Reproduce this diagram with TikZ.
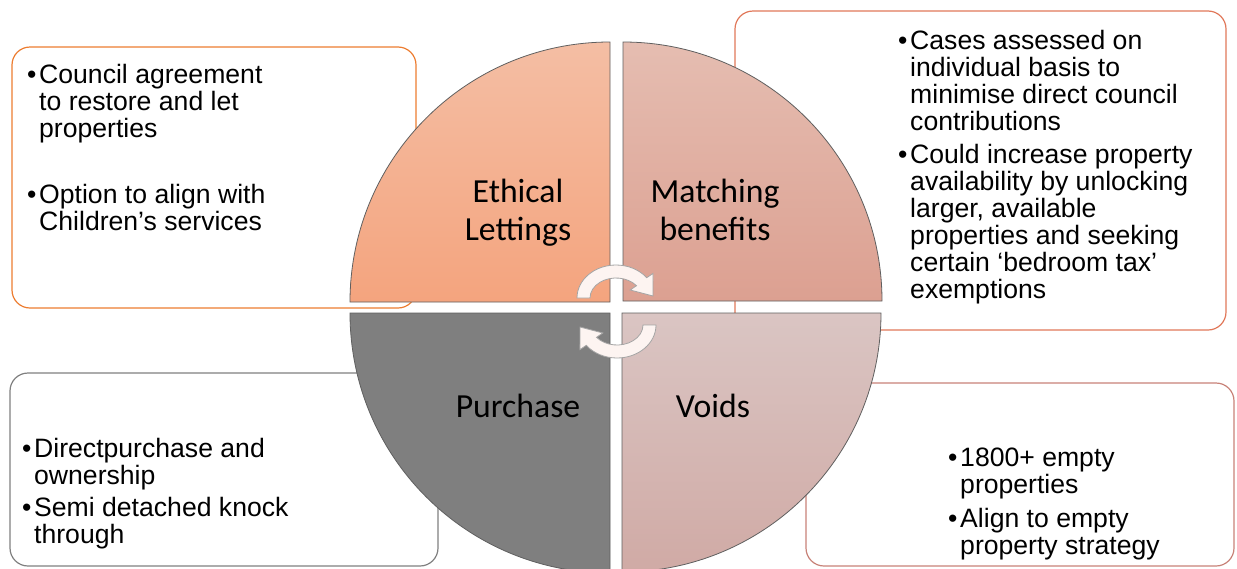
\documentclass[tikz,border=0pt]{standalone}
\usepackage{fontspec}
\setmainfont{Liberation Sans}
\newfontfamily\calib{Carlito}
\definecolor{bOne}{RGB}{237,125,49}
\definecolor{bTwo}{RGB}{225,120,90}
\definecolor{bThree}{RGB}{128,128,128}
\definecolor{bFour}{RGB}{200,130,120}
\definecolor{tlTop}{RGB}{244,190,164}
\definecolor{tlBot}{RGB}{244,164,126}
\definecolor{trTop}{RGB}{229,189,177}
\definecolor{trBot}{RGB}{220,160,145}
\definecolor{blFill}{RGB}{127,127,127}
\definecolor{brTop}{RGB}{218,197,195}
\definecolor{brBot}{RGB}{208,170,165}
\definecolor{qEdge}{RGB}{95,95,95}
\definecolor{arrFill}{RGB}{253,244,241}
\definecolor{arrLine}{RGB}{165,165,165}
\newcommand\bfont{\fontsize{26.6}{27}\selectfont}
\newcommand\qfont{\calib\fontsize{33.7}{38}\selectfont}
\tikzset{
  infobox/.style={rounded corners=18pt, line width=1.2pt, fill=white},
  quad/.style={draw=qEdge, line width=0.8pt},
  bultext/.style={anchor=base west, inner sep=0pt, font=\bfont},
  bulmark/.style={anchor=base west, inner sep=0pt, font=\bfont},
  qlabel/.style={anchor=base, inner sep=0pt, font=\qfont},
  cyc/.style={fill=arrFill, draw=arrLine, line width=0.8pt}
}
\begin{document}
\begin{tikzpicture}[x=1pt,y=-1pt]
\useasboundingbox (0,0) rectangle (1237,568);
\fill[white] (0,0) rectangle (1237,568);

% text boxes (behind the circle)
\draw[infobox, draw=bOne]   (12,47)   rectangle (416,308);
\draw[infobox, draw=bTwo]   (735,11)  rectangle (1226,330);
\draw[infobox, draw=bThree] (10,373)  rectangle (438,566);
\draw[infobox, draw=bFour]  (806,383) rectangle (1234,566);

% quadrants
\path[quad, top color=tlTop, bottom color=tlBot]
  (610,302) -- (350,302) arc[start angle=180, end angle=270, radius=260] -- cycle;
\path[quad, top color=trTop, bottom color=trBot]
  (623,301) -- (623,42) arc[start angle=270, end angle=360, radius=259] -- cycle;
\path[quad, fill=blFill]
  (610,313) -- (350,313) arc[start angle=180, end angle=90, radius=260] -- cycle;
\path[quad, top color=brTop, bottom color=brBot]
  (622,313) -- (881,313) arc[start angle=0, end angle=90, radius=259] -- cycle;

% quadrant labels
\node[qlabel] (qEL) at (518,202) {\parbox[t]{200pt}{\centering Ethical\\Lettings}};
\node[qlabel] (qMB) at (715,202) {\parbox[t]{200pt}{\centering Matching\\benefits}};
\node[qlabel] (qPU) at (518,417) {Purchase};
\node[qlabel] (qVO) at (713,417) {Voids};

% circular arrows
\begin{scope}[shift={(616,298)}]
\path[cyc] (180:39 and 33) arc[start angle=180, end angle=322, x radius=39, y radius=33]
  -- (322:47 and 40) -- (356:37 and 29) -- (322:18 and 13) -- (322:26 and 20)
  arc[start angle=322, end angle=180, x radius=26, y radius=20] -- cycle;
\end{scope}
\begin{scope}[shift={(617,325)}]
\path[cyc] (0:39 and 33) arc[start angle=0, end angle=142, x radius=39, y radius=33]
  -- (142:47 and 40) -- (176:37 and 29) -- (142:18 and 13) -- (142:26 and 20)
  arc[start angle=142, end angle=0, x radius=26, y radius=20] -- cycle;
\end{scope}

% box 1
\node[bulmark] (m1a) at (27,83) {•};
\node[bultext] (t1a) at (39,83) {\parbox[t]{330pt}{\raggedright Council agreement\\to restore and let\\properties}};
\node[bulmark] (m1b) at (27,203) {•};
\node[bultext] (t1b) at (39,203) {\parbox[t]{330pt}{\raggedright Option to align with\\Children’s services}};

% box 2
\node[bulmark] (m2a) at (898,49) {•};
\node[bultext] (t2a) at (910,49) {\parbox[t]{330pt}{\raggedright Cases assessed on\\individual basis to\\minimise direct council\\contributions}};
\node[bulmark] (m2b) at (898,163) {•};
\node[bultext] (t2b) at (910,163) {\parbox[t]{330pt}{\raggedright Could increase property\\availability by unlocking\\larger, available\\properties and seeking\\certain ‘bedroom tax’\\exemptions}};

% box 3
\node[bulmark] (m3a) at (22,457) {•};
\node[bultext] (t3a) at (34,457) {\parbox[t]{330pt}{\raggedright Directpurchase and\\ownership}};
\node[bulmark] (m3b) at (22,516) {•};
\node[bultext] (t3b) at (34,516) {\parbox[t]{330pt}{\raggedright Semi detached knock\\through}};

% box 4
\node[bulmark] (m4a) at (948,466) {•};
\node[bultext] (t4a) at (960,466) {\parbox[t]{330pt}{\raggedright 1800+ empty\\properties}};
\node[bulmark] (m4b) at (948,527) {•};
\node[bultext] (t4b) at (960,527) {\parbox[t]{330pt}{\raggedright Align to empty\\property strategy}};
\end{tikzpicture}
\end{document}
